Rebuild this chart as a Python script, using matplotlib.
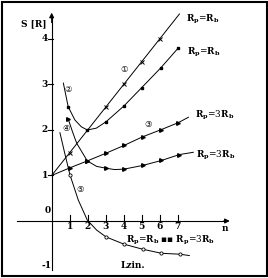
import matplotlib.pyplot as plt
from matplotlib.patches import Rectangle

plt.rcParams['font.family'] = ['DejaVu Serif', 'DejaVu Sans', 'Noto Sans CJK SC']
plt.rcParams['mathtext.fontset'] = 'dejavuserif'
plt.rcParams['mathtext.default'] = 'bf'

# curve 1: R_p=R_b, straight line
c1_x = [0, 1, 2, 3, 4, 5, 6, 7.1]
c1_y = [1, 1.5, 2.0, 2.5, 3.0, 3.5, 4.0, 4.55]
c1_marks = [1, 3, 4, 5, 6]

# curve 2: R_p=R_b, with minimum
c2_x = [0.65, 0.92, 1.29, 1.65, 1.98, 2.48, 3.02, 4.02, 5.0, 6.05, 7.03]
c2_y = [3.03, 2.51, 2.22, 2.07, 2.0, 2.04, 2.18, 2.53, 2.93, 3.36, 3.8]
c2_marks = [1, 4, 6, 7, 8, 9, 10]

# curve 3: R_p=3R_b, straight line
c3_x = [0, 1.02, 1.98, 3.02, 4.02, 5.05, 6.1, 7.03, 7.6]
c3_y = [1, 1.17, 1.32, 1.49, 1.66, 1.85, 2.01, 2.16, 2.28]
c3_marks = [1, 2, 3, 4, 5, 6, 7]

# curve 4: R_p=3R_b, with minimum
c4_x = [0.92, 1.15, 1.39, 1.98, 2.5, 3.02, 3.5, 4.02, 5.05, 6.1, 7.1, 7.87]
c4_y = [2.24, 1.97, 1.71, 1.32, 1.2, 1.16, 1.13, 1.14, 1.22, 1.33, 1.46, 1.51]
c4_marks = [0, 3, 5, 7, 8, 9, 10]

# curve 5: falling curve
c5_x = [0.46, 0.75, 1.02, 1.48, 1.98, 2.5, 3.02, 4.02, 5.05, 6.1, 7.13, 7.65]
c5_y = [1.94, 1.45, 1.01, 0.46, 0.02, -0.2, -0.35, -0.51, -0.62, -0.71, -0.73, -0.76]
c5_marks = [2, 6, 7, 8, 9, 10]

x_ticks = [1, 2, 3, 4, 5, 6, 7]
y_ticks = [1, 2, 3, 4]

fig = plt.figure(figsize=(2.68, 2.78), dpi=100)
ax = fig.add_axes([0, 0, 1, 1])
ax.set_xlim(-2.87, 12.02)
ax.set_ylim(-1.253, 4.857)
ax.axis('off')

# axes with arrows
ax.plot([-1.93, 9.7], [0, 0], color='black', lw=0.8)
ax.plot([0, 0], [-1.08, 4.5], color='black', lw=0.8)
ax.annotate('', xy=(10.05, 0), xytext=(9.4, 0),
            arrowprops=dict(arrowstyle='-|>', color='black', lw=0.8, mutation_scale=7))
ax.annotate('', xy=(0, 4.64), xytext=(0, 4.3),
            arrowprops=dict(arrowstyle='-|>', color='black', lw=0.8, mutation_scale=7))

for t in x_ticks:
    ax.plot([t, t], [-0.03, 0.13], color='black', lw=0.8)
    ax.text(t, -0.13, str(t), ha='center', va='center', fontsize=6.5, fontweight='bold')
for t in y_ticks:
    ax.plot([-0.22, 0.05], [t, t], color='black', lw=0.8)
    ax.text(-0.37, t, str(t), ha='center', va='center', fontsize=6.5, fontweight='bold')
ax.text(-0.22, 0.22, '0', ha='center', va='center', fontsize=6.5, fontweight='bold')
ax.text(-0.3, -0.97, '-1', ha='center', va='center', fontsize=6.5, fontweight='bold')
ax.text(9.6, -0.16, 'n', ha='center', va='center', fontsize=6.5, fontweight='bold')
ax.text(-1.0, 4.33, 'S [R]', ha='center', va='center', fontsize=6.5, fontweight='bold')

kw = dict(color='black', lw=0.7)
ax.plot(c1_x, c1_y, marker='x', ms=3.5, mew=0.7, markevery=c1_marks, **kw)
ax.plot(c2_x, c2_y, marker='s', ms=1.8, markevery=c2_marks, **kw)
ax.plot(c3_x, c3_y, marker='>', ms=2.6, markevery=c3_marks, **kw)
ax.plot(c4_x, c4_y, marker='>', ms=2.6, markevery=c4_marks, **kw)
ax.plot(c5_x, c5_y, marker='o', ms=2.3, mfc='white', mew=0.6, markevery=c5_marks, **kw)

# circled curve numbers
circ = dict(ha='center', va='center', fontsize=6, family=['DejaVu Sans', 'Noto Sans CJK SC'])
ax.text(4.02, 3.32, '\u2460', **circ)
ax.text(0.92, 2.88, '\u2461', **circ)
ax.text(5.35, 2.11, '\u2462', **circ)
ax.text(0.83, 2.04, '\u2463', **circ)
ax.text(1.57, 0.70, '\u2464', **circ)

# curve labels
lab = dict(ha='center', va='center', fontsize=6.5)
ax.text(8.4, 4.44, r'$R_p$=$R_b$', **lab)
ax.text(8.45, 3.70, r'$R_p$=$R_b$', **lab)
ax.text(9.05, 2.31, r'$R_p$=3$R_b$', **lab)
ax.text(9.1, 1.45, r'$R_p$=3$R_b$', **lab)
ax.text(6.6, -0.42, r'$R_p$=$R_b$ ▪▪ $R_p$=3$R_b$', **lab)
ax.text(4.5, -0.97, 'Lzin.', ha='center', va='center', fontsize=6.5, fontweight='bold')

fig.add_artist(Rectangle((2 / 268, 2 / 278), 264.5 / 268, 274 / 278,
                         transform=fig.transFigure, fill=False, lw=1.5, color='black'))

fig.savefig('out.png', dpi=100)
